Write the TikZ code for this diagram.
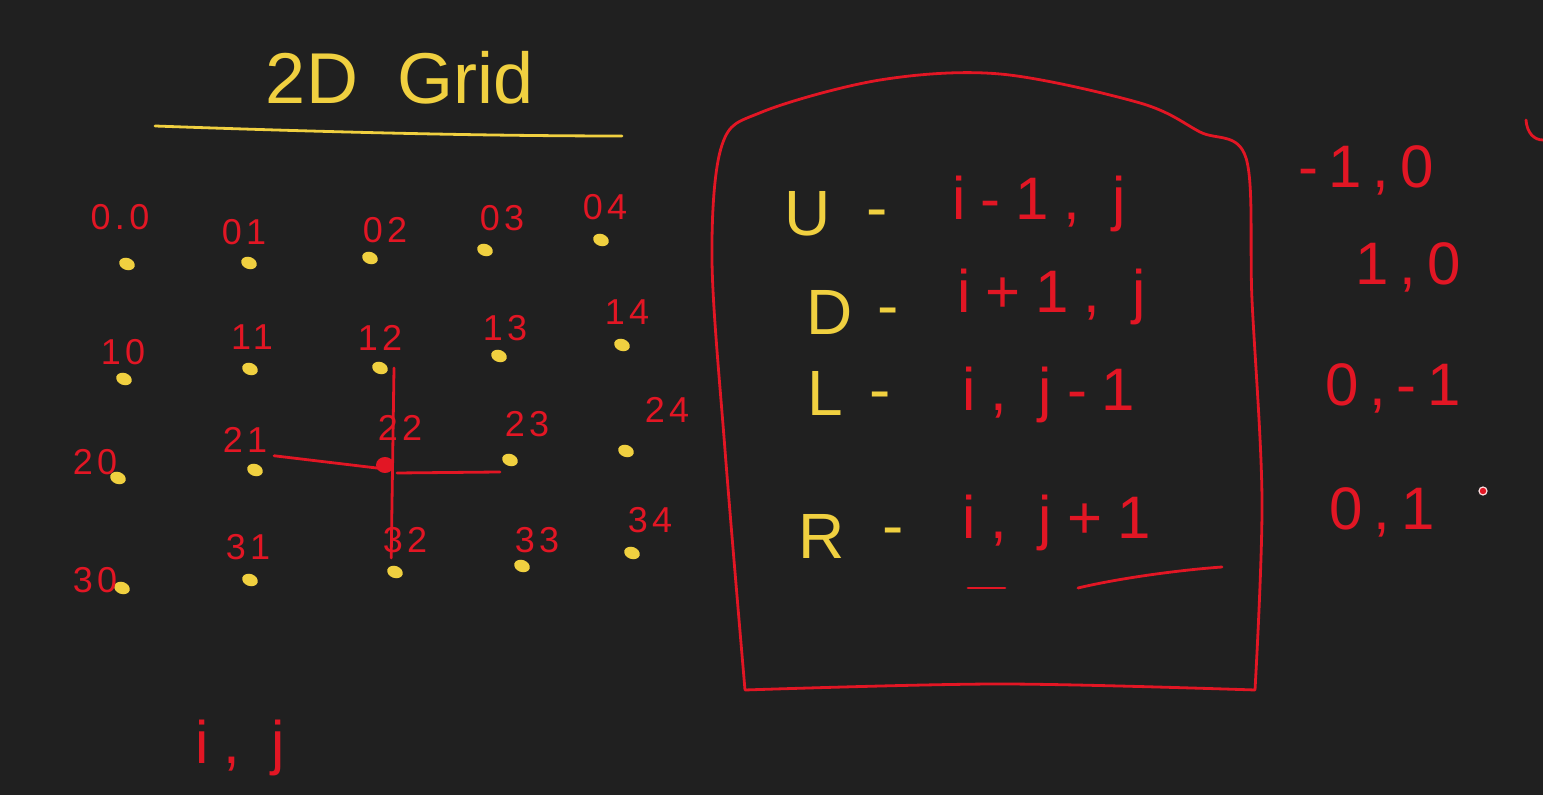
\documentclass[tikz,border=0pt]{standalone}
\usepackage{fontspec}
\usetikzlibrary{shapes.geometric}
\setmainfont{Liberation Sans}
\definecolor{bg}{RGB}{32,32,32}
\definecolor{hy}{RGB}{240,208,64}
\definecolor{hr}{RGB}{226,22,36}
\begin{document}
\begin{tikzpicture}[x=0.5pt,y=-0.5pt,
  lbl/.style={text=hr,font=\fontsize{18}{20}\selectfont\addfontfeature{LetterSpace=12}},
  gdot/.style={fill=hy,draw=none,ellipse,minimum width=8pt,minimum height=6pt,inner sep=0pt,rotate=-20},
  ylet/.style={text=hy,font=\fontsize{32}{34}\selectfont},
  rexp/.style={text=hr,font=\fontsize{30}{32}\selectfont\addfontfeature{LetterSpace=25}},
  rcol/.style={text=hr,font=\fontsize{30}{32}\selectfont\addfontfeature{LetterSpace=18}},
  pen/.style={line width=1.4pt,line cap=round,line join=round}]
\fill[bg] (0,0) rectangle (1543,795);
\useasboundingbox (0,0) rectangle (1543,795);
% title
\node[text=hy,font=\fontsize{36}{38}\selectfont] (title) at (400,78) {2D\hspace{20pt}Grid};
\coordinate (ul1) at (155,126);
\coordinate (ul2) at (622,136);
\draw[pen,hy] (ul1) .. controls (350,133) and (500,136) .. (ul2);
% grid dots
\foreach \n/\x/\y in {00/127/264,01/249/263,02/370/258,03/485/250,04/601/240,
  10/124/379,11/250/369,12/380/368,13/499/356,14/622/345,
  20/118/478,21/255/470,22/385/465,23/510/460,24/626/451,
  30/122/588,31/250/580,32/395/572,33/522/566,34/632/553}
  \node[gdot] (d\n) at (\x,\y) {};
% grid labels
\foreach \n/\t/\x/\y in {00/0.0/120/217,01/01/244/232,02/02/385/230,03/03/502/218,04/04/605/207,
  10/10/123/352,11/11/252/337,12/12/380/338,13/13/505/328,14/14/627/312,
  20/20/95/462,21/21/245/440,22/22/400/428,23/23/527/424,24/24/667/410,
  30/30/95/580,31/31/248/547,32/32/405/540,33/33/537/540,34/34/650/520}
  \node[lbl] (l\n) at (\x,\y) {\t};
% cross through 22
\draw[pen,hr] ([xshift=7pt]d12.center) -- ([xshift=-3pt,yshift=4pt]d32.north);
\draw[pen,hr] ([xshift=6pt,yshift=6pt]d21.north east) -- ([yshift=-2pt]d22.center);
\draw[pen,hr] ([xshift=6pt,yshift=-4pt]d22.center) -- ([xshift=-5pt,yshift=-6pt]d23.center);
\fill[hr] (d22) ellipse (9 and 8);
% box
\draw[pen,hr] plot[smooth,tension=0.55] coordinates {(745,690) (1000,684) (1255,690)}
  -- plot[smooth,tension=0.55] coordinates {(1255,690) (1262,500) (1252,300) (1246,158) (1200,132) (1140,103) (1000,74) (880,80) (762,112) (722,145) (712,260) (725,450) (745,690)};
% box rows
\node[ylet] (u) at (808,214) {U};
\node[ylet] (ud) at (877,220) {-};
\node[rexp,anchor=west] (ue) at (945,204) {i-1, j};
\node[ylet] (d) at (830,312) {D};
\node[ylet] (dd) at (888,318) {-};
\node[rexp,anchor=west] (de) at (950,297) {i+1, j};
\node[ylet] (l) at (825,393) {L};
\node[ylet] (ld) at (880,402) {-};
\node[rexp,anchor=west] (le) at (955,395) {i, j-1};
\node[ylet] (r) at (822,536) {R};
\node[ylet] (rd) at (893,538) {-};
\node[rexp,anchor=west] (re) at (955,523) {i, j+1};
\coordinate (a1) at (968,588); \coordinate (a2) at (1005,588);
\coordinate (b1) at (1078,588); \coordinate (b2) at (1222,567);
\draw[pen,hr] (a1) -- (a2);
\draw[pen,hr] (b1) .. controls (1120,578) and (1180,570) .. (b2);
% right column
\node[rcol] (c1) at (1366,170) {-1,0};
\node[rcol] (c2) at (1408,267) {1,0};
\node[rcol] (c3) at (1393,388) {0,-1};
\node[rcol] (c4) at (1382,512) {0,1};
\node[circle,draw=white!85!hr,fill=hr,line width=0.6pt,minimum size=4pt,inner sep=0pt] (pt) at (1483,491) {};
\draw[pen,hr] (1526,120) .. controls (1527,133) and (1534,140) .. (1543,140);
% i, j
\node[text=hr,font=\fontsize{30}{32}\selectfont\addfontfeature{LetterSpace=25}] (ij) at (240,748) {i, j};
\end{tikzpicture}
\end{document}
